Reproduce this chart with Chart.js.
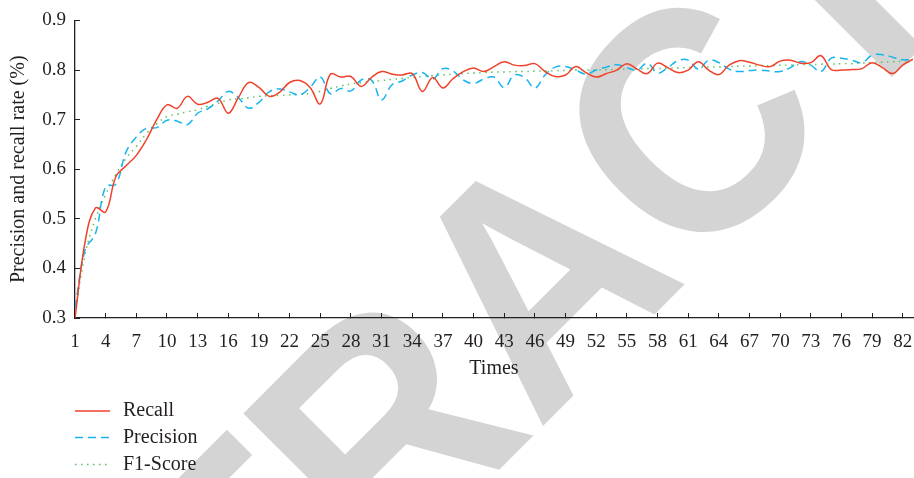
<!DOCTYPE html>
<html>
<head>
<meta charset="utf-8">
<script src="https://cdn.jsdelivr.net/npm/chart.js@4.4.1/dist/chart.umd.min.js"></script>
<style>
  html, body { margin: 0; padding: 0; background: #fff; }
  #wrap { width: 914px; height: 478px; position: relative; }
</style>
</head>
<body>
<div id="wrap"><canvas id="prChart" width="914" height="478"></canvas></div>
<script>
// Data
const times = [1,2,3,4,5,6,7,8,9,10,11,12,13,14,15,16,17,18,19,20,
  21,22,23,24,25,26,27,28,29,30,31,32,33,34,35,36,37,38,39,40,
  41,42,43,44,45,46,47,48,49,50,51,52,53,54,55,56,57,58,59,60,
  61,62,63,64,65,66,67,68,69,70,71,72,73,74,75,76,77,78,79,80,
  81,82,83];
const xTicks = [1,4,7,10,13,16,19,22,25,28,31,34,37,40,43,46,49,52,55,58,61,64,67,70,73,76,79,82];
const yTicks = [0.3,0.4,0.5,0.6,0.7,0.8,0.9];

const recall = [0.300,0.455,0.522,0.514,0.585,0.607,0.628,0.660,0.700,0.730,
  0.723,0.747,0.731,0.735,0.743,0.713,0.745,0.775,0.765,0.747,
  0.755,0.775,0.779,0.765,0.732,0.792,0.786,0.787,0.767,0.785,
  0.797,0.792,0.790,0.793,0.757,0.785,0.764,0.783,0.797,0.804,
  0.797,0.807,0.817,0.810,0.809,0.813,0.797,0.787,0.790,0.807,
  0.795,0.786,0.793,0.800,0.813,0.802,0.793,0.814,0.805,0.795,
  0.800,0.817,0.800,0.791,0.810,0.819,0.816,0.810,0.807,0.818,
  0.820,0.814,0.815,0.829,0.801,0.800,0.801,0.803,0.815,0.805,
  0.793,0.810,0.822];

const precision = [0.320,0.438,0.470,0.565,0.570,0.635,0.665,0.683,0.684,0.699,
  0.697,0.690,0.713,0.722,0.738,0.757,0.744,0.723,0.735,0.756,
  0.762,0.756,0.750,0.765,0.786,0.752,0.763,0.758,0.780,0.780,
  0.740,0.770,0.778,0.790,0.795,0.782,0.803,0.798,0.780,0.773,
  0.782,0.786,0.765,0.790,0.785,0.764,0.790,0.806,0.807,0.800,
  0.792,0.800,0.806,0.811,0.805,0.800,0.814,0.794,0.805,0.819,
  0.820,0.802,0.820,0.815,0.802,0.797,0.799,0.800,0.798,0.797,
  0.805,0.817,0.810,0.797,0.824,0.824,0.820,0.815,0.830,0.831,
  0.826,0.821,0.821];

const f1Score = [0.310,0.430,0.500,0.549,0.590,0.622,0.646,0.672,0.692,0.706,
  0.711,0.716,0.720,0.727,0.733,0.740,0.742,0.744,0.747,0.748,
  0.749,0.750,0.751,0.753,0.757,0.763,0.768,0.772,0.775,0.777,
  0.779,0.781,0.783,0.785,0.787,0.789,0.790,0.792,0.793,0.794,
  0.795,0.796,0.796,0.797,0.797,0.798,0.798,0.799,0.799,0.800,
  0.800,0.800,0.801,0.801,0.802,0.802,0.803,0.803,0.804,0.804,
  0.805,0.805,0.806,0.806,0.807,0.808,0.808,0.809,0.809,0.810,
  0.810,0.811,0.811,0.812,0.812,0.813,0.813,0.814,0.815,0.816,
  0.817,0.818,0.820];

const seriesNames = ['Recall', 'Precision', 'F1-Score'];

const inkColor = '#231f20';
const serif = "'Liberation Serif', 'DejaVu Serif', serif";

// gray RETRACTED stamp behind everything
const watermark = {
  id: 'watermark',
  beforeDraw(chart) {
    const ctx = chart.ctx;
    ctx.save();
    ctx.translate(614, 355);
    ctx.rotate(-Math.PI / 4);
    ctx.scale(0.93, 1);
    ctx.fillStyle = '#d4d4d4';
    ctx.font = "bold 321px 'Liberation Sans', Arial, sans-serif";
    ctx.textAlign = 'center';
    ctx.textBaseline = 'alphabetic';
    ctx.fillText('RETRACTED', 0, 0);
    ctx.restore();
  }
};

// vertical legend under the plot
const stackedLegend = {
  id: 'stackedLegend',
  afterDraw(chart) {
    const ctx = chart.ctx;
    const rows = [411, 437.5, 464.5];
    ctx.save();
    chart.data.datasets.forEach((ds, i) => {
      const y = rows[i];
      ctx.beginPath();
      ctx.strokeStyle = ds.borderColor;
      ctx.lineWidth = ds.borderWidth;
      ctx.setLineDash(ds.borderDash || []);
      ctx.moveTo(75, y);
      ctx.lineTo(110, y);
      ctx.stroke();
      ctx.setLineDash([]);
      ctx.fillStyle = inkColor;
      ctx.font = '20px ' + serif;
      ctx.textAlign = 'left';
      ctx.textBaseline = 'middle';
      ctx.fillText(ds.label, 123, y);
    });
    ctx.restore();
  }
};

const ctx = document.getElementById('prChart').getContext('2d');
new Chart(ctx, {
  type: 'line',
  data: {
    labels: times,
    datasets: [
      { label: seriesNames[0], data: recall, borderColor: '#f0412a', borderWidth: 1.5, tension: 0.4, pointRadius: 0 },
      { label: seriesNames[1], data: precision, borderColor: '#17b5ee', borderWidth: 1.5, borderDash: [8, 5], tension: 0.4, pointRadius: 0 },
      { label: seriesNames[2], data: f1Score, borderColor: '#5cc160', borderWidth: 1.5, borderDash: [1.5, 4.5], tension: 0.4, pointRadius: 0 }
    ]
  },
  options: {
    responsive: false,
    animation: false,
    layout: { padding: { left: 0, right: 1, top: 20.5, bottom: 97 } },
    plugins: { legend: { display: false }, tooltip: { enabled: false } },
    scales: {
      x: {
        type: 'linear',
        min: 1,
        max: 83,
        afterBuildTicks: s => { s.ticks = xTicks.map(v => ({ value: v })); },
        afterFit: s => { s.height = 63; s.paddingLeft = 0; s.paddingRight = 0; },
        grid: { drawOnChartArea: false, drawTicks: true, tickLength: -5, color: inkColor, lineWidth: 1 },
        border: { display: true, color: inkColor, width: 1.3 },
        ticks: { autoSkip: false, maxRotation: 0, padding: 18, color: inkColor, font: { family: serif, size: 19 } },
        title: { display: true, text: 'Times', color: inkColor, font: { family: serif, size: 20 }, padding: { top: 0, bottom: 0 } }
      },
      y: {
        min: 0.3,
        max: 0.9,
        afterBuildTicks: s => { s.ticks = yTicks.map(v => ({ value: v })); },
        afterFit: s => { s.width = 75; s.paddingTop = 0; s.paddingBottom = 0; },
        grid: { drawOnChartArea: false, drawTicks: true, tickLength: -5, color: inkColor, lineWidth: 1 },
        border: { display: true, color: inkColor, width: 1.3 },
        ticks: { padding: 14, color: inkColor, font: { family: serif, size: 19 }, callback: v => v.toFixed(1) },
        title: { display: true, text: 'Precision and recall rate (%)', color: inkColor, font: { family: serif, size: 20 }, padding: { top: 7, bottom: 0 } }
      }
    }
  },
  plugins: [watermark, stackedLegend]
});
</script>
</body>
</html>
